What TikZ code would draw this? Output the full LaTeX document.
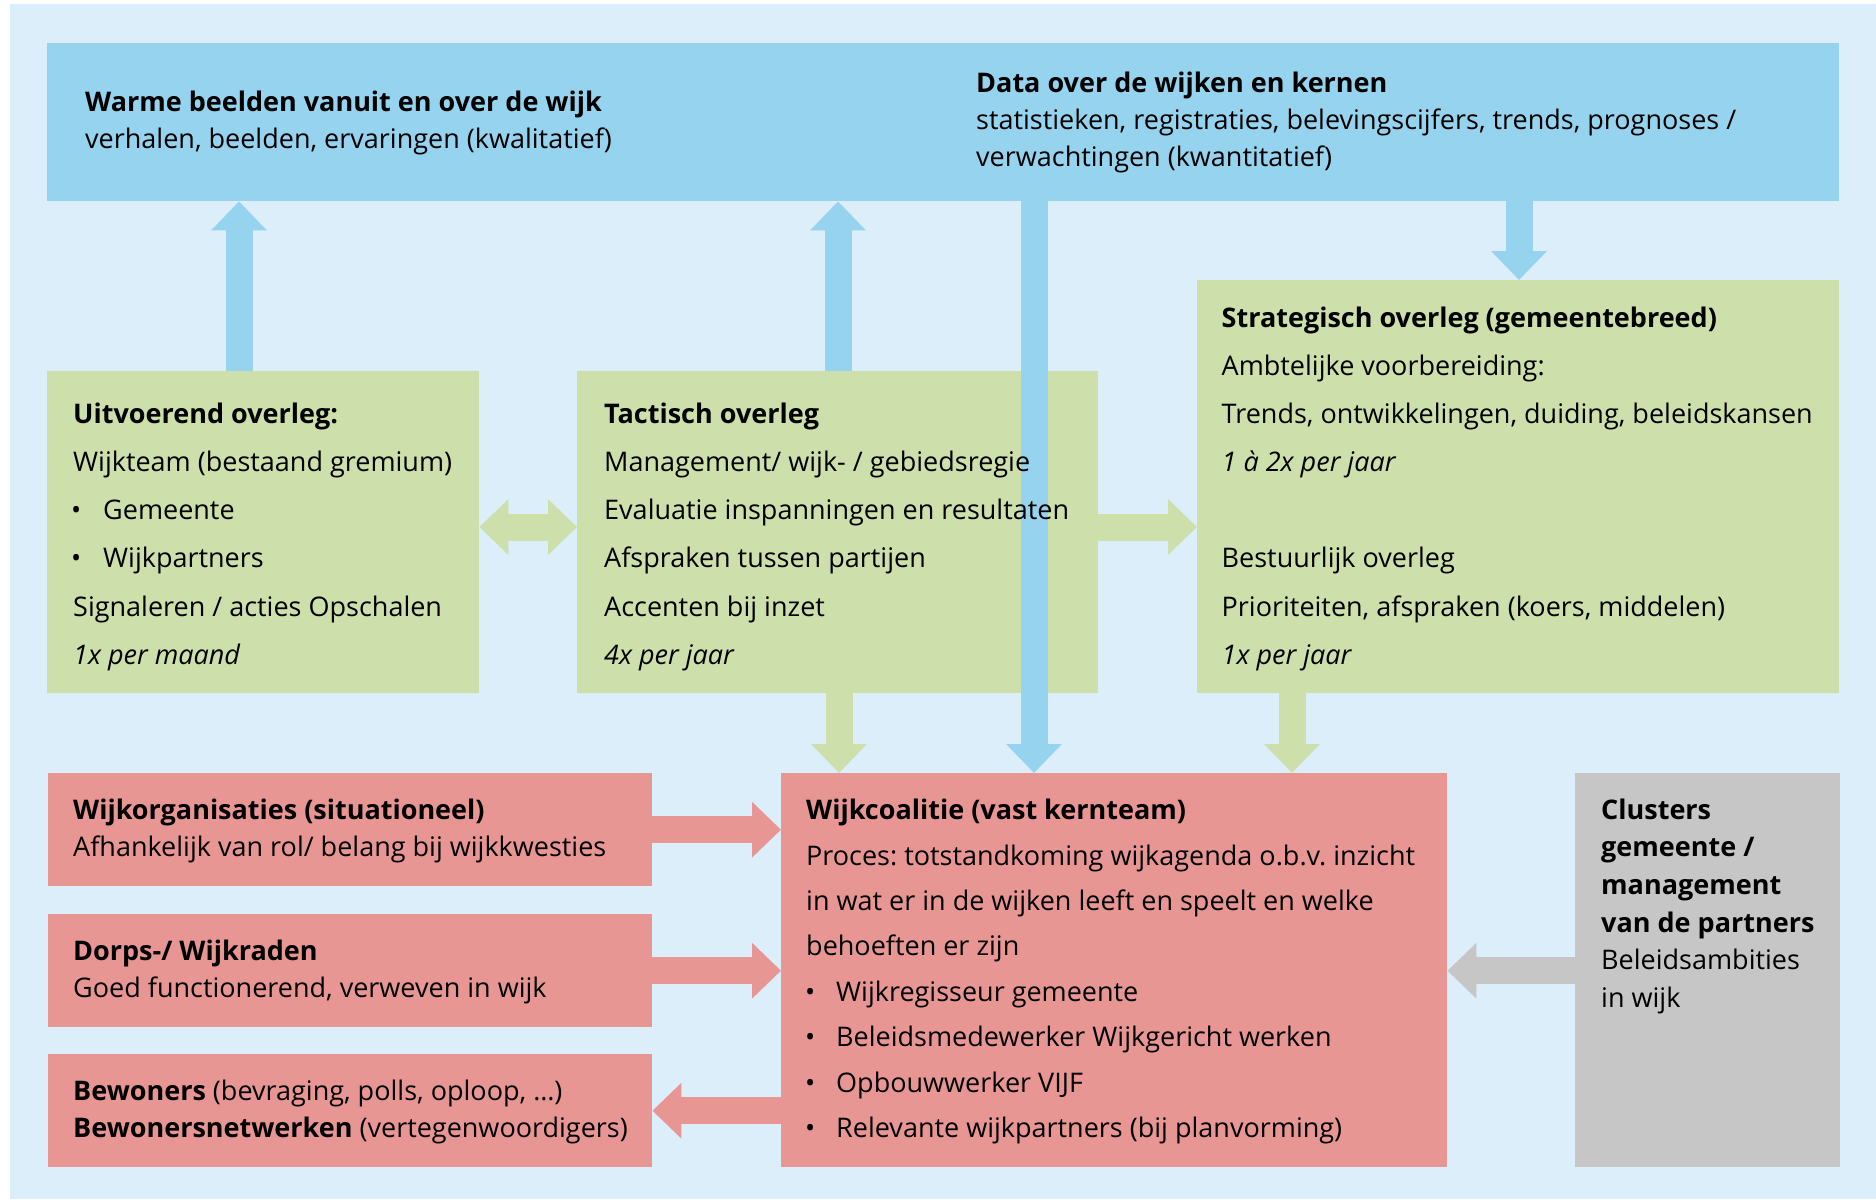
\documentclass[tikz,border=0pt]{standalone}
\usepackage{fontspec}
\setmainfont{Open Sans}
\usetikzlibrary{arrows.meta,calc}
\definecolor{bgblue}{RGB}{219,238,249}
\definecolor{topblue}{RGB}{149,211,238}
\definecolor{boxgreen}{RGB}{205,223,171}
\definecolor{boxred}{RGB}{232,150,147}
\definecolor{boxgray}{RGB}{198,198,198}
\frenchspacing
\begin{document}
\begin{tikzpicture}[x=1pt,y=-1pt,
  box/.style={draw=none,inner sep=0,anchor=north west,rectangle},
  ln/.style={anchor=base west,inner sep=0,yshift=-0.6pt,font=\fontsize{27}{32}\selectfont},
  blk/.style={line width=27pt,-{Triangle[width=54pt,length=29pt]}},
  dblk/.style={line width=27pt,{Triangle[width=54pt,length=29pt]}-{Triangle[width=54pt,length=29pt]}}]
\useasboundingbox (0,0) rectangle (1876,1199);
\fill[bgblue] (10,4) rectangle (1876,1199);
% boxes
\node[box,fill=topblue,minimum width=1792pt,minimum height=158pt] (top) at (47,43) {};
\node[box,fill=boxgreen,minimum width=432pt,minimum height=322pt] (uit) at (47,371) {};
\node[box,fill=boxgreen,minimum width=521pt,minimum height=322pt] (tac) at (577,371) {};
\node[box,fill=boxgreen,minimum width=642pt,minimum height=413pt] (str) at (1197,280) {};
\node[box,fill=boxred,minimum width=604pt,minimum height=113pt] (w1) at (48,773) {};
\node[box,fill=boxred,minimum width=604pt,minimum height=113pt] (w2) at (48,914) {};
\node[box,fill=boxred,minimum width=604pt,minimum height=113pt] (w3) at (48,1054) {};
\node[box,fill=boxred,minimum width=666pt,minimum height=394pt] (wc) at (781,773) {};
\node[box,fill=boxgray,minimum width=265pt,minimum height=394pt] (gr) at (1575,773) {};
% arrow anchor coordinates
\coordinate (a1) at ([xshift=192pt]uit.north west);
\coordinate (a2) at ([xshift=261pt]tac.north west);
\coordinate (a3) at ([xshift=987pt]top.south west);
\coordinate (a4) at ([xshift=1472pt]top.south west);
\coordinate (a5) at ([xshift=262pt]tac.south west);
\coordinate (a6) at ([xshift=95pt]str.south west);
\coordinate (a7) at ([yshift=-156pt]uit.north east);
\coordinate (a12) at ([yshift=-197.7pt]gr.north west);
% arrows
\draw[blk,topblue] (a1) -- (a1 |- top.south);
\draw[blk,topblue] (a2) -- (a2 |- top.south);
\draw[blk,topblue] (a4) -- (a4 |- str.north);
\draw[blk,boxgreen] (a5) -- (a5 |- wc.north);
\draw[blk,boxgreen] (a6) -- (a6 |- wc.north);
\draw[blk,topblue] (a3) -- (a3 |- wc.north);
\draw[dblk,boxgreen] (a7) -- (a7 -| tac.west);
\draw[blk,boxgreen] (a7 -| tac.east) -- (a7 -| str.west);
\draw[blk,boxred] (w1.east) -- (w1.east -| wc.west);
\draw[blk,boxred] (w2.east) -- (w2.east -| wc.west);
\draw[blk,boxred] (w3.east -| wc.west) -- (w3.east);
\draw[blk,boxgray] (a12) -- (a12 -| wc.east);
% top texts
\node[ln] (t1) at (85,110.7) {\textbf{Warme beelden vanuit en over de wijk}};
\node[ln] (t2) at (85,147.8) {verhalen, beelden, ervaringen (kwalitatief)};
\node[ln] (t3) at (976,91.5) {\textbf{Data over de wijken en kernen}};
\node[ln] (t4) at (976,128.6) {statistieken, registraties, belevingscijfers, trends, prognoses /};
\node[ln] (t5) at (976,165.7) {verwachtingen (kwantitatief)};
% uitvoerend
\node[ln] (u1) at (73,423) {\textbf{Uitvoerend overleg:}};
\node[ln] (u2) at (73,470.8) {Wijkteam (bestaand gremium)};
\node[ln] (u3b) at (71,518.7) {•};
\node[ln] (u3) at (103,518.7) {Gemeente};
\node[ln] (u4b) at (71,566.5) {•};
\node[ln] (u4) at (103,566.5) {Wijkpartners};
\node[ln] (u5) at (73,615.6) {Signaleren / acties Opschalen};
\node[ln] (u6) at (73,663.4) {\textit{1x per maand}};
% tactisch
\node[ln] (c1) at (604,423) {\textbf{Tactisch overleg}};
\node[ln] (c2) at (604,470.8) {Management/ wijk- / gebiedsregie};
\node[ln] (c3) at (604,518.7) {Evaluatie inspanningen en resultaten};
\node[ln] (c4) at (604,566.5) {Afspraken tussen partijen};
\node[ln] (c5) at (604,615.6) {Accenten bij inzet};
\node[ln] (c6) at (604,663.4) {\textit{4x per jaar}};
% strategisch
\node[ln] (s1) at (1221.5,327) {\textbf{Strategisch overleg (gemeentebreed)}};
\node[ln] (s2) at (1221.5,375) {Ambtelijke voorbereiding:};
\node[ln] (s3) at (1221.5,423) {Trends, ontwikkelingen, duiding, beleidskansen};
\node[ln] (s4) at (1221.5,470.8) {\textit{1 à 2x per jaar}};
\node[ln] (s5) at (1221.5,566.5) {Bestuurlijk overleg};
\node[ln] (s6) at (1221.5,615.6) {Prioriteiten, afspraken (koers, middelen)};
\node[ln] (s7) at (1221.5,663.4) {\textit{1x per jaar}};
% red boxes
\node[ln] (r1) at (73,819) {\textbf{Wijkorganisaties (situationeel)}};
\node[ln] (r2) at (73,856) {Afhankelijk van rol/ belang bij wijkkwesties};
\node[ln] (r3) at (73,960) {\textbf{Dorps-/ Wijkraden}};
\node[ln] (r4) at (73,997) {Goed functionerend, verweven in wijk};
\node[ln] (r5) at (73,1100) {\textbf{Bewoners} (bevraging, polls, oploop, …)};
\node[ln] (r6) at (73,1137) {\textbf{Bewonersnetwerken} (vertegenwoordigers)};
% wijkcoalitie
\node[ln] (k1) at (806,819) {\textbf{Wijkcoalitie (vast kernteam)}};
\node[ln] (k2) at (806,864.4) {Proces: totstandkoming wijkagenda o.b.v. inzicht};
\node[ln] (k3) at (806,910) {in wat er in de wijken leeft en speelt en welke};
\node[ln] (k4) at (806,955) {behoeften er zijn};
\node[ln] (k5b) at (805,1000.8) {•};
\node[ln] (k5) at (836,1000.8) {Wijkregisseur gemeente};
\node[ln] (k6b) at (805,1046) {•};
\node[ln] (k6) at (836,1046) {Beleidsmedewerker Wijkgericht werken};
\node[ln] (k7b) at (805,1091.7) {•};
\node[ln] (k7) at (836,1091.7) {Opbouwwerker VIJF};
\node[ln] (k8b) at (805,1137) {•};
\node[ln] (k8) at (836,1137) {Relevante wijkpartners (bij planvorming)};
% gray
\node[ln] (g1) at (1601,819) {\textbf{Clusters}};
\node[ln] (g2) at (1601,856) {\textbf{gemeente /}};
\node[ln] (g3) at (1601,894) {\textbf{management}};
\node[ln] (g4) at (1601,931.4) {\textbf{van de partners}};
\node[ln] (g5) at (1601,968.5) {Beleidsambities};
\node[ln] (g6) at (1601,1006.8) {in wijk};
\end{tikzpicture}
\end{document}
